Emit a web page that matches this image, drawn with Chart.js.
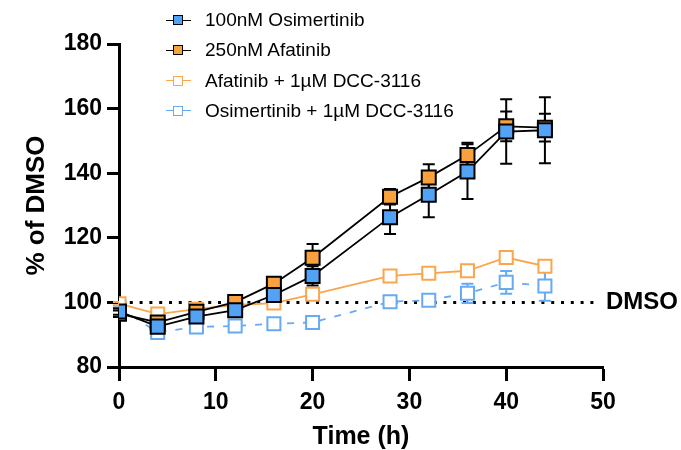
<!DOCTYPE html>
<html>
<head>
<meta charset="utf-8">
<script src="https://cdn.jsdelivr.net/npm/chart.js@4/dist/chart.umd.min.js"></script>
<style>
  html, body { margin: 0; padding: 0; background: #fff; }
  #wrap { position: relative; width: 681px; height: 450px; overflow: hidden; }
  #c { position: absolute; left: 0; top: 0; }
  #legend { position: absolute; left: 166px; top: 5px; font-family: "Liberation Sans", Arial, sans-serif; font-size: 19px; color: #000; }
  .row { position: relative; height: 30.3px; line-height: 30.3px; padding-left: 39px; white-space: nowrap; }
  .ln { position: absolute; left: 0; top: 14.5px; width: 25px; height: 0; border-top: 1.5px solid #000; }
  .sq { position: absolute; left: 7px; top: 10px; width: 8px; height: 8px; border: 1.5px solid #000; }
</style>
</head>
<body>
<div id="wrap">
  <canvas id="c" width="681" height="450"></canvas>
  <div id="legend"></div>
</div>
<script>
// ---- data ----
const timeH = [0, 4, 8, 12, 16, 20, 28, 32, 36, 40, 44];
const seriesLabels = ["100nM Osimertinib", "250nM Afatinib", "Afatinib + 1µM DCC-3116", "Osimertinib + 1µM DCC-3116"];
const osimertinib     = [97.2, 92.5, 95.6, 97.6, 102.3, 108.2, 126.4, 133.3, 140.5, 152.9, 153.3];
const osimertinibErr  = [1, 1, 1, 1, 1.5, 3, 5.2, 6.9, 8.5, 10, 10.2];
const afatinib        = [96.5, 93.8, 97.1, 100.1, 105.8, 113.8, 132.7, 138.7, 145.6, 154.5, 154.1];
const afatinibErr     = [1, 1, 1, 1, 1.5, 4.3, 2.4, 4.1, 3.8, 4.6, 4.3];
const afatinibDcc     = [99.6, 96.4, 97.9, 99.2, 99.8, 102.5, 108.2, 109.0, 109.8, 113.9, 111.2];
const afatinibDccErr  = [0.5, 0.5, 0.5, 0.5, 0.5, 0.5, 1, 1, 1, 1, 1];
const osimertinibDcc  = [98.5, 90.7, 92.4, 92.7, 93.4, 93.8, 100.2, 100.7, 102.8, 106.2, 105.1];
const osimertinibDccErr = [0.5, 0.5, 0.5, 0.5, 0.5, 0.5, 1, 1.2, 3, 3.5, 4.6];
const xTicks = [0, 10, 20, 30, 40, 50];
const yTicks = [80, 100, 120, 140, 160, 180];
const dmsoLevel = 100;

const FONT = '"Liberation Sans", Arial, sans-serif';
const BLUE = '#52a2f6', ORANGE = '#f9a13c', LORANGE = '#fba54c', LBLUE = '#67aaf2';

function pts(vals) { return timeH.map((t, i) => ({ x: t, y: vals[i] })); }

const styles = [
  { fill: BLUE, stroke: '#000', line: '#000', dash: [], err: '#000', r: 9.9 },
  { fill: ORANGE, stroke: '#000', line: '#000', dash: [], err: '#000', r: 9.9 },
  { fill: '#fff', stroke: LORANGE, line: LORANGE, dash: [], err: LORANGE, r: 9.2 },
  { fill: '#fff', stroke: LBLUE, line: LBLUE, dash: [7, 9], err: LBLUE, r: 9.2 }
];
const values = [osimertinib, afatinib, afatinibDcc, osimertinibDcc];
const errors = [osimertinibErr, afatinibErr, afatinibDccErr, osimertinibDccErr];

const datasets = values.map((v, i) => ({
  label: seriesLabels[i],
  data: pts(v),
  errs: errors[i],
  borderColor: styles[i].line,
  borderWidth: 1.8,
  borderDash: styles[i].dash,
  pointStyle: 'rect',
  pointRadius: styles[i].r,
  pointHoverRadius: styles[i].r,
  pointBackgroundColor: styles[i].fill,
  pointBorderColor: styles[i].stroke,
  pointBorderWidth: 2,
  tension: 0,
  fill: false
}));

// legend (HTML)
const lg = document.getElementById('legend');
seriesLabels.forEach((lab, i) => {
  const row = document.createElement('div'); row.className = 'row';
  const ln = document.createElement('span'); ln.className = 'ln'; ln.style.borderTopColor = styles[i].line;
  const sq = document.createElement('span'); sq.className = 'sq';
  sq.style.background = styles[i].fill; sq.style.borderColor = styles[i].stroke;
  row.appendChild(ln); row.appendChild(sq);
  row.appendChild(document.createTextNode(lab));
  lg.appendChild(row);
});

const extras = {
  id: 'extras',
  beforeDatasetsDraw(chart) {
    const ctx = chart.ctx, xs = chart.scales.x, ys = chart.scales.y;
    // DMSO dotted line
    ctx.save();
    ctx.strokeStyle = '#000'; ctx.lineWidth = 3; ctx.setLineDash([3, 6.8]);
    const yy = ys.getPixelForValue(dmsoLevel);
    ctx.beginPath(); ctx.moveTo(xs.getPixelForValue(0) + 1, yy); ctx.lineTo(xs.getPixelForValue(49.6), yy); ctx.stroke();
    ctx.restore();
    // error bars
    for (let d = chart.data.datasets.length - 1; d >= 0; d--) {
      const ds = chart.data.datasets[d];
      ctx.save();
      ctx.strokeStyle = styles[d].err; ctx.lineWidth = 2; ctx.setLineDash([]);
      ds.data.forEach((p, i) => {
        const e = ds.errs[i];
        const px = xs.getPixelForValue(p.x);
        const top = ys.getPixelForValue(p.y + e), bot = ys.getPixelForValue(p.y - e);
        ctx.beginPath();
        ctx.moveTo(px, top); ctx.lineTo(px, bot);
        ctx.moveTo(px - 6, top); ctx.lineTo(px + 6, top);
        ctx.moveTo(px - 6, bot); ctx.lineTo(px + 6, bot);
        ctx.stroke();
      });
      ctx.restore();
    }
  },
  afterDraw(chart) {
    const ctx = chart.ctx, ys = chart.scales.y;
    ctx.save();
    ctx.font = 'bold 24px ' + FONT;
    ctx.fillStyle = '#000'; ctx.textBaseline = 'middle'; ctx.textAlign = 'left';
    ctx.fillText('DMSO', chart.chartArea.right + 3, ys.getPixelForValue(dmsoLevel));
    ctx.restore();
  }
};

new Chart(document.getElementById('c'), {
  type: 'line',
  data: { datasets },
  plugins: [extras],
  options: {
    responsive: false,
    animation: false,
    events: [],
    layout: { padding: { left: 0, top: 44, right: 78, bottom: 0 } },
    plugins: { legend: { display: false }, tooltip: { enabled: false } },
    scales: {
      x: {
        type: 'linear', min: 0, max: 50,
        afterFit(s) { s.height = 83; },
        afterBuildTicks(s) { s.ticks = xTicks.map(v => ({ value: v })); },
        ticks: { font: { family: FONT, size: 23, weight: 'bold' }, color: '#000', padding: 8, maxRotation: 0 },
        grid: { drawOnChartArea: false, drawTicks: true, tickLength: 14, tickWidth: 3, tickColor: '#000' },
        border: { display: true, color: '#000', width: 3 },
        title: { display: true, text: 'Time (h)', color: '#000', font: { family: FONT, size: 25, weight: 'bold', lineHeight: 1 }, padding: { top: 0, bottom: 0 } }
      },
      y: {
        min: 80, max: 180,
        afterFit(s) { s.width = 119; },
        afterBuildTicks(s) { s.ticks = yTicks.map(v => ({ value: v })); },
        ticks: { font: { family: FONT, size: 23, weight: 'bold' }, color: '#000', padding: 5 },
        grid: { drawOnChartArea: false, drawTicks: true, tickLength: 12, tickWidth: 3, tickColor: '#000' },
        border: { display: true, color: '#000', width: 3 },
        title: { display: true, text: '% of DMSO', color: '#000', font: { family: FONT, size: 26, weight: 'bold', lineHeight: 1 }, padding: { top: 24, bottom: 0 } }
      }
    }
  }
});
</script>
</body>
</html>
